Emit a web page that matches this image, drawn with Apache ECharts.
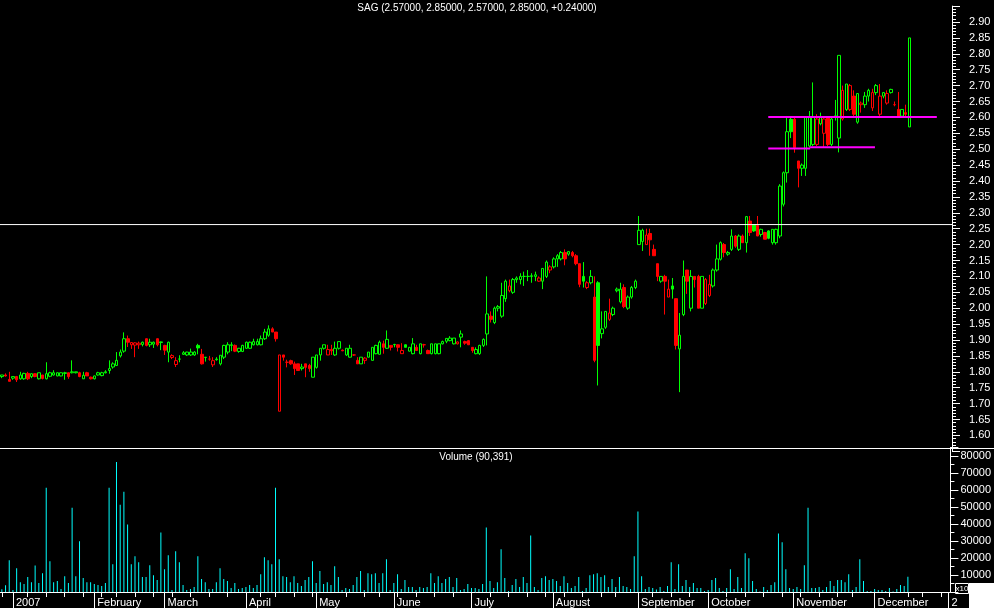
<!DOCTYPE html>
<html><head><meta charset="utf-8">
<script src="https://cdn.jsdelivr.net/npm/echarts@6/dist/echarts.min.js"></script>
<style>html,body{margin:0;padding:0;background:#000;}#c{width:994px;height:608px;}</style>
</head><body><div id="c"></div>
<script>
// ---------- DATA ----------
const ticker = 'SAG';
const opens = [1.785,1.79,1.776,1.78,1.785,1.778,1.778,1.795,1.785,1.794,1.778,1.79,1.778,1.786,1.79,1.787,1.787,1.795,1.797,1.797,1.797,1.797,1.778,1.797,1.783,1.778,1.79,1.788,1.797,1.804,1.815,1.82,1.85,1.865,1.904,1.885,1.884,1.885,1.886,1.904,1.885,1.887,1.904,1.892,1.883,1.862,1.845,1.823,1.84,1.855,1.853,1.853,1.853,1.883,1.855,1.845,1.84,1.822,1.838,1.825,1.846,1.862,1.883,1.883,1.864,1.864,1.874,1.874,1.885,1.885,1.885,1.904,1.915,1.935,1.925,1.676,1.853,1.83,1.835,1.825,1.825,1.81,1.825,1.82,1.783,1.814,1.853,1.874,1.853,1.87,1.853,1.874,1.868,1.853,1.846,1.853,1.836,1.825,1.836,1.846,1.836,1.857,1.855,1.888,1.874,1.883,1.885,1.885,1.857,1.885,1.865,1.857,1.877,1.857,1.885,1.867,1.857,1.857,1.857,1.888,1.896,1.898,1.888,1.888,1.909,1.895,1.898,1.877,1.857,1.857,1.883,1.919,1.975,1.955,2.0,1.975,2.03,2.055,2.05,2.09,2.09,2.10,2.10,2.10,2.10,2.085,2.085,2.10,2.12,2.13,2.155,2.155,2.175,2.17,2.175,2.165,2.14,2.10,2.065,2.08,2.035,2.08,1.92,1.94,1.965,1.98,2.055,2.02,2.065,2.0,2.035,2.065,2.20,2.21,2.20,2.235,2.185,2.14,2.085,2.10,2.035,2.07,2.03,1.872,1.98,2.12,2.0,2.10,2.10,2.0,2.015,2.04,2.07,2.12,2.154,2.20,2.17,2.185,2.227,2.185,2.227,2.206,2.274,2.262,2.26,2.232,2.238,2.243,2.206,2.206,2.227,2.327,2.426,2.594,2.594,2.463,2.44,2.44,2.51,2.515,2.515,2.58,2.55,2.60,2.515,2.60,2.535,2.595,2.625,2.625,2.667,2.585,2.64,2.64,2.667,2.63,2.678,2.61,2.667,2.645,2.678,2.64,2.625,2.604,2.615,2.57];
const highs = [1.79,1.795,1.80,1.785,1.787,1.80,1.797,1.80,1.795,1.796,1.797,1.79,1.83,1.80,1.805,1.798,1.798,1.80,1.797,1.836,1.80,1.80,1.80,1.80,1.785,1.788,1.80,1.80,1.805,1.836,1.83,1.862,1.87,1.924,1.914,1.893,1.893,1.895,1.895,1.905,1.904,1.895,1.905,1.895,1.885,1.895,1.855,1.846,1.852,1.865,1.863,1.873,1.865,1.888,1.872,1.846,1.85,1.846,1.846,1.852,1.885,1.893,1.893,1.886,1.875,1.885,1.895,1.895,1.904,1.904,1.914,1.935,1.946,1.94,1.925,1.853,1.853,1.838,1.838,1.832,1.825,1.825,1.825,1.825,1.846,1.853,1.874,1.885,1.885,1.885,1.895,1.895,1.87,1.874,1.885,1.855,1.846,1.846,1.846,1.862,1.877,1.885,1.898,1.898,1.93,1.884,1.888,1.886,1.89,1.886,1.878,1.906,1.885,1.888,1.888,1.87,1.888,1.888,1.888,1.898,1.906,1.912,1.906,1.895,1.93,1.898,1.90,1.877,1.877,1.885,1.905,2.10,1.99,2.005,2.01,2.08,2.09,2.09,2.095,2.1,2.11,2.115,2.12,2.11,2.115,2.10,2.125,2.15,2.135,2.16,2.17,2.18,2.185,2.18,2.18,2.17,2.14,2.145,2.085,2.12,2.10,2.085,1.99,1.99,2.03,2.005,2.065,2.08,2.075,2.04,2.07,2.09,2.29,2.25,2.25,2.25,2.20,2.14,2.10,2.105,2.09,2.095,2.03,1.985,2.15,2.12,2.12,2.10,2.105,2.10,2.095,2.105,2.125,2.20,2.21,2.205,2.18,2.248,2.23,2.232,2.232,2.29,2.29,2.264,2.29,2.25,2.24,2.245,2.248,2.25,2.39,2.43,2.60,2.60,2.60,2.463,2.455,2.60,2.62,2.71,2.61,2.615,2.60,2.60,2.60,2.655,2.795,2.70,2.705,2.705,2.685,2.675,2.65,2.68,2.69,2.69,2.705,2.705,2.68,2.685,2.69,2.65,2.68,2.625,2.64,2.85];
const lows = [1.78,1.785,1.77,1.775,1.768,1.775,1.775,1.774,1.78,1.783,1.776,1.776,1.776,1.783,1.788,1.786,1.786,1.775,1.778,1.795,1.795,1.783,1.778,1.787,1.776,1.776,1.788,1.786,1.795,1.794,1.81,1.818,1.845,1.86,1.878,1.872,1.846,1.872,1.88,1.88,1.878,1.875,1.88,1.868,1.853,1.83,1.84,1.815,1.83,1.853,1.85,1.85,1.85,1.855,1.823,1.832,1.835,1.815,1.835,1.82,1.84,1.855,1.865,1.862,1.86,1.862,1.872,1.872,1.883,1.883,1.883,1.90,1.91,1.925,1.895,1.676,1.835,1.814,1.822,1.79,1.804,1.804,1.783,1.80,1.783,1.81,1.835,1.87,1.853,1.853,1.85,1.87,1.865,1.85,1.845,1.85,1.825,1.825,1.825,1.845,1.836,1.855,1.855,1.857,1.872,1.867,1.877,1.864,1.857,1.877,1.864,1.855,1.866,1.855,1.876,1.857,1.855,1.855,1.855,1.886,1.89,1.896,1.886,1.886,1.877,1.885,1.885,1.86,1.855,1.853,1.878,1.883,1.955,1.95,1.99,1.97,2.02,2.05,2.045,2.08,2.075,2.07,2.085,2.08,2.085,2.083,2.06,2.095,2.11,2.125,2.13,2.15,2.135,2.165,2.16,2.135,2.066,2.065,2.06,2.075,1.83,1.757,1.905,1.935,1.96,1.975,2.05,2.015,2.0,1.995,2.03,2.06,2.20,2.18,2.2,2.165,2.165,2.085,2.08,1.98,2.035,2.03,1.87,1.736,1.975,2.045,1.99,2.065,2.0,2.0,2.01,2.035,2.065,2.115,2.15,2.16,2.165,2.18,2.19,2.18,2.205,2.175,2.227,2.24,2.227,2.225,2.217,2.217,2.2,2.2,2.22,2.32,2.395,2.535,2.489,2.38,2.416,2.416,2.505,2.51,2.51,2.575,2.505,2.51,2.51,2.59,2.49,2.59,2.62,2.62,2.60,2.58,2.615,2.63,2.65,2.62,2.67,2.60,2.66,2.64,2.675,2.635,2.60,2.60,2.60,2.57];
const closes = [1.79,1.787,1.77,1.785,1.775,1.79,1.795,1.778,1.794,1.785,1.797,1.779,1.794,1.797,1.797,1.797,1.797,1.797,1.785,1.80,1.80,1.785,1.789,1.787,1.778,1.787,1.797,1.797,1.80,1.81,1.825,1.836,1.862,1.904,1.893,1.892,1.891,1.89,1.893,1.883,1.893,1.893,1.885,1.894,1.868,1.893,1.851,1.835,1.84,1.86,1.862,1.862,1.862,1.875,1.825,1.846,1.84,1.835,1.84,1.852,1.883,1.885,1.885,1.865,1.874,1.883,1.893,1.893,1.895,1.895,1.904,1.925,1.935,1.925,1.904,1.853,1.846,1.83,1.825,1.81,1.804,1.815,1.814,1.81,1.846,1.853,1.874,1.885,1.87,1.866,1.874,1.895,1.866,1.874,1.874,1.853,1.825,1.846,1.843,1.862,1.877,1.883,1.893,1.877,1.902,1.877,1.886,1.877,1.867,1.877,1.877,1.888,1.867,1.888,1.885,1.857,1.888,1.888,1.888,1.895,1.905,1.906,1.906,1.894,1.919,1.89,1.885,1.867,1.87,1.883,1.902,1.982,1.965,2.0,2.005,2.04,2.085,2.07,2.09,2.095,2.10,2.10,2.10,2.102,2.105,2.095,2.125,2.145,2.13,2.155,2.165,2.175,2.155,2.178,2.165,2.14,2.075,2.085,2.08,2.10,1.836,1.883,1.935,1.99,1.985,2.0,2.06,2.06,2.005,2.035,2.065,2.085,2.245,2.245,2.23,2.215,2.165,2.10,2.10,2.085,2.06,2.06,1.883,1.915,2.10,2.085,2.10,2.09,2.0,2.10,2.09,2.075,2.12,2.155,2.206,2.175,2.175,2.227,2.195,2.227,2.206,2.288,2.238,2.243,2.227,2.248,2.217,2.22,2.248,2.248,2.384,2.426,2.555,2.555,2.505,2.44,2.45,2.60,2.60,2.60,2.595,2.60,2.595,2.515,2.595,2.605,2.795,2.685,2.705,2.70,2.61,2.675,2.645,2.667,2.685,2.678,2.70,2.667,2.678,2.675,2.688,2.64,2.604,2.625,2.61,2.85];
// volume in axis units (x10 shares)
const volumes = [1600,3900,18700,1200,14000,5800,4700,8800,5800,15600,5300,11100,61300,18100,5800,6400,1800,9300,5300,49600,9300,29800,8200,5800,5800,4700,4100,3500,5300,61300,16300,76400,51300,58900,39700,16300,21000,17500,8800,8800,15800,9900,7000,35000,13400,21600,1200,23900,17500,4100,1200,1800,2900,21000,7600,5800,1800,1800,5800,14000,7600,6400,2300,5300,1800,2300,2900,4100,2300,4100,10500,20400,18700,16300,61300,19300,9300,8800,5800,9300,5300,3500,7000,8800,18100,5300,12300,4700,5800,
4100,15200,8800,1200,2300,1800,4100,8800,12300,1200,11100,10500,11100,5300,11100,19300,1200,5300,10500,1800,7000,2900,2900,1200,2900,2300,2900,11100,5300,9300,5300,7600,8800,2900,8200,1200,1800,4700,2300,2300,1800,4700,37900,6400,2300,5800,25100,8200,600,4100,7600,2900,8800,5300,33300,2900,1200,8200,9300,7000,7600,6400,3500,9300,5300,2300,3500,8800,600,2300,9900,10500,11100,8800,9900,2900,7600,2900,8800,3500,2900,1800,21000,47300,9300,1800,2900,2300,1500,
2900,600,3500,17500,1800,16300,3500,7000,2900,5300,2300,2300,600,1200,7000,8200,2300,600,2300,13400,1800,8800,2300,22800,19800,6400,1800,300,2900,1200,4100,5800,34400,29200,13400,2300,1800,2900,1800,15800,49600,2300,2300,2900,1200,2900,6400,3500,7000,7000,5800,10500,1200,2900,19300,6400,600,600,1800,1200,1200,600,2300,300,1800,4100,3500,9039.1];
const slotCount = 257; // trading-day slots on the time axis (data + empty future)
const monthStarts = [3,25,44,66,85,106,127,149,172,191,214,236,256];
const monthLabels = ['2007','February','March','April','May','June','July','August','September','October','November','December','2'];
const weekStarts = [0,7,12,17,22,27,31,36,41,46,51,56,61,70,74,79,84,93,98,102,107,112,117,122,132,137,142,147,152,157,162,166,176,181,186,196,201,206,211,216,221,226,230,240,245,249,254];
const priceLabelMin = 1.60, priceLabelMax = 2.90;
const volumeLabelMin = 10000, volumeLabelMax = 80000;
const horizontalLevel = {from: 0, to: 257, price: 2.263};
const channelLines = [
  {from: 207.4, to: 252.9, price: 2.601},
  {from: 207.4, to: 218.7, price: 2.502},
  {from: 218.7, to: 236.2, price: 2.506}
];

// ---------- CHART ----------
const GREEN = '#00ff00', RED = '#ff0000', CYAN = '#00ffff', MAGENTA = '#ff00ff', WHITE = '#ffffff';
const FONT = 'Liberation Sans, Arial, sans-serif';
const categories = Array.from({length: slotCount}, (_, i) => 'd' + i);
const monthSet = new Set(monthStarts);
const weekSet = new Set(weekStarts);
const n = closes.length;

const candleData = opens.map((o, i) => {
  const c = closes[i];
  const prev = i > 0 ? closes[i - 1] : o;
  const col = c >= prev ? GREEN : RED;
  const fill = c > o ? '#000000' : col;
  return {value: [o, c, lows[i], highs[i]],
    itemStyle: {color: fill, color0: fill, borderColor: col, borderColor0: col}};
});

const lo = opens[n-1], hi = highs[n-1], lw = lows[n-1], cl = closes[n-1];
const chg = cl - closes[n-2];
const titleText = `${ticker} (${lo.toFixed(5)}, ${hi.toFixed(5)}, ${lw.toFixed(5)}, ${cl.toFixed(5)}, ${chg >= 0 ? '+' : ''}${chg.toFixed(5)})`;
const volTitle = `Volume (${Math.round(volumes[n-1] * 10).toLocaleString('en-US')})`;

const lineSeries = (seg, color, width) => ({
  type: 'line', xAxisIndex: 1, yAxisIndex: 0, symbol: 'none', silent: true,
  data: [[seg.from, seg.price], [seg.to, seg.price]],
  lineStyle: {color: color, width: width}, z: 5
});
const hidden = {axisLine: {show: false, onZero: false}, axisTick: {show: false}, axisLabel: {show: false}, splitLine: {show: false}};

const chart = echarts.init(document.getElementById('c'), null, {renderer: 'canvas', width: 994, height: 608});
chart.setOption({
  backgroundColor: '#000000',
  animation: false,
  textStyle: {fontFamily: FONT},
  grid: [
    {left: 0, width: 952, top: 6.1, height: 445.2},
    {left: 0, width: 952, top: 447.5, height: 145}
  ],
  xAxis: [
    Object.assign({type: 'category', gridIndex: 0, position: 'bottom', data: categories, boundaryGap: true}, hidden),
    Object.assign({type: 'value', gridIndex: 0, position: 'bottom', min: 0, max: slotCount}, hidden),
    {type: 'category', gridIndex: 1, position: 'bottom', data: categories, boundaryGap: true,
      axisLine: {show: true, onZero: false, lineStyle: {color: WHITE, width: 1}},
      axisTick: {show: true, alignWithLabel: true, length: 16, interval: (i) => monthSet.has(i), lineStyle: {color: WHITE}},
      axisLabel: {show: true, interval: (i) => monthSet.has(i), color: WHITE, fontSize: 11, fontFamily: FONT,
        align: 'left', margin: 5, padding: [0, 0, 0, 3],
        formatter: (v, i) => { const k = monthStarts.indexOf(i); return k >= 0 ? monthLabels[k] : ''; }},
      splitLine: {show: false}},
    {type: 'category', gridIndex: 1, position: 'bottom', data: categories, boundaryGap: true,
      axisLine: {show: false, onZero: false},
      axisTick: {show: true, alignWithLabel: true, length: 5, interval: (i) => weekSet.has(i), lineStyle: {color: WHITE}},
      axisLabel: {show: false}, splitLine: {show: false}}
  ],
  yAxis: [
    {type: 'value', gridIndex: 0, position: 'right', min: 1.55, max: 2.95, interval: 0.05,
      axisLine: {show: true, onZero: false, lineStyle: {color: WHITE}},
      axisTick: {show: true, length: 8, lineStyle: {color: WHITE}},
      minorTick: {show: true, splitNumber: 5, length: 4, lineStyle: {color: WHITE}},
      splitLine: {show: false}, minorSplitLine: {show: false},
      axisLabel: {color: WHITE, fontSize: 11, fontFamily: FONT, margin: 17,
        formatter: (v) => (v < priceLabelMin - 1e-6 || v > priceLabelMax + 1e-6) ? '' : v.toFixed(2)}},
    {type: 'value', gridIndex: 1, position: 'right', min: 0, max: 85000, interval: 10000,
      axisLine: {show: true, onZero: false, lineStyle: {color: WHITE}},
      axisTick: {show: true, length: 8, lineStyle: {color: WHITE}},
      minorTick: {show: true, splitNumber: 2, length: 4, lineStyle: {color: WHITE}},
      splitLine: {show: false}, minorSplitLine: {show: false},
      axisLabel: {color: WHITE, fontSize: 11, fontFamily: FONT, margin: 10, showMaxLabel: false,
        formatter: (v) => (v < volumeLabelMin || v > volumeLabelMax) ? '' : String(v)}}
  ],
  series: [
    lineSeries(horizontalLevel, WHITE, 1),
    ...channelLines.map(s => lineSeries(s, MAGENTA, 2)),
    {type: 'candlestick', xAxisIndex: 0, yAxisIndex: 0, data: candleData, barWidth: 3, z: 3},
    {type: 'bar', xAxisIndex: 2, yAxisIndex: 1, data: volumes, barWidth: 1,
      itemStyle: {color: CYAN}, silent: true}
  ],
  graphic: [
    {type: 'text', x: 477, y: 8, style: {text: titleText, fill: WHITE, font: '10px ' + FONT, textAlign: 'center', textVerticalAlign: 'middle'}},
    {type: 'text', x: 476, y: 457, style: {text: volTitle, fill: WHITE, font: '10px ' + FONT, textAlign: 'center', textVerticalAlign: 'middle'}},
    {type: 'line', shape: {x1: 0, y1: 448.5, x2: 994, y2: 448.5}, style: {stroke: WHITE, lineWidth: 1}},
    {type: 'rect', shape: {x: 955.5, y: 583.5, width: 13, height: 10}, style: {fill: '#000', stroke: WHITE, lineWidth: 1}},
    {type: 'text', x: 962, y: 589, style: {text: 'x10', fill: WHITE, font: '8px ' + FONT, textAlign: 'center', textVerticalAlign: 'middle'}},
    {type: 'rect', shape: {x: 969, y: 583, width: 25, height: 25}, style: {fill: WHITE}}
  ]
});
</script>
</body></html>
